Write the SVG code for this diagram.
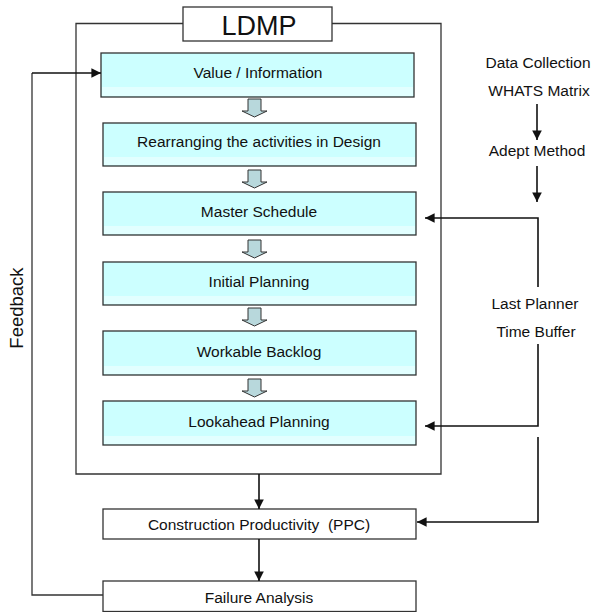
<svg xmlns="http://www.w3.org/2000/svg" width="594" height="612" viewBox="0 0 594 612">
<style>
.frame{fill:#fff;stroke:#333;stroke-width:1.3}
.box{fill:#ccffff;stroke:#333;stroke-width:1.3}
.band{fill:#e2ffff}
.wbox{fill:#fff;stroke:#333;stroke-width:1.3}
.t{font-family:"Liberation Sans",Arial,sans-serif;font-size:15.5px;fill:#111;text-anchor:middle}
.side{font-family:"Liberation Sans",Arial,sans-serif;font-size:15.5px;fill:#111;text-anchor:middle}
.blk{fill:#b8d8dc;stroke:#333;stroke-width:1}
.ln{fill:none;stroke:#111;stroke-width:1.6}
.thin{fill:none;stroke:#333;stroke-width:1.3}
</style>
<defs>
<marker id="ah" viewBox="0 0 10 10" refX="10" refY="5" markerWidth="6" markerHeight="6" orient="auto" markerUnits="strokeWidth">
<path d="M0,0 L10,5 L0,10 z" fill="#111"/>
</marker>
<path id="blockArrow" d="M-6.5,0 H6.5 V12 H12.5 L0,18 L-12.5,12 H-6.5 Z"/>
</defs>

<g id="ldmp-frame">
<path class="thin" d="M183,23.5 H76 V474 H441 V23.5 H332"/>
</g>
<g id="ldmp-title">
<rect class="wbox" x="183" y="7" width="149" height="34"/>
<text x="259" y="35" font-family="Liberation Sans, Arial, sans-serif" font-size="27" text-anchor="middle" fill="#111">LDMP</text>
</g>

<g id="value">
<rect class="box" x="101" y="53" width="313" height="44"/>
<rect class="band" x="102" y="87" width="311" height="9"/>
<text class="t" x="258" y="78">Value / Information</text>
</g>
<g id="rearranging">
<rect class="box" x="103" y="123" width="313" height="43"/>
<rect class="band" x="104" y="157" width="311" height="8"/>
<text class="t" x="259" y="147">Rearranging the activities in Design</text>
</g>
<g id="master">
<rect class="box" x="103" y="192" width="313" height="43"/>
<rect class="band" x="104" y="226" width="311" height="8"/>
<text class="t" x="259" y="217">Master Schedule</text>
</g>
<g id="initial">
<rect class="box" x="103" y="262" width="313" height="43"/>
<rect class="band" x="104" y="296" width="311" height="8"/>
<text class="t" x="259" y="287">Initial Planning</text>
</g>
<g id="workable">
<rect class="box" x="103" y="331" width="313" height="44"/>
<rect class="band" x="104" y="366" width="311" height="8"/>
<text class="t" x="259" y="357">Workable Backlog</text>
</g>
<g id="lookahead">
<rect class="box" x="103" y="401" width="313" height="44"/>
<rect class="band" x="104" y="436" width="311" height="8"/>
<text class="t" x="259" y="427">Lookahead Planning</text>
</g>

<g id="construction">
<rect class="wbox" x="103" y="509" width="313" height="30"/>
<text class="t" x="259" y="530" xml:space="preserve">Construction Productivity  (PPC)</text>
</g>
<g id="failure">
<rect class="wbox" x="103" y="581" width="313" height="30.5"/>
<text class="t" x="259" y="603">Failure Analysis</text>
</g>

<g id="side-labels">
<text class="side" x="538" y="68">Data Collection</text>
<text class="side" x="539" y="96">WHATS Matrix</text>
<text class="side" x="537" y="156">Adept Method</text>
<text class="side" x="535" y="309">Last Planner</text>
<text class="side" x="536" y="337">Time Buffer</text>
<text x="16" y="308" transform="rotate(-90 16 308)" font-family="Liberation Sans, Arial, sans-serif" font-size="18.5" text-anchor="middle" dominant-baseline="central" fill="#111">Feedback</text>
</g>

<g id="connectors">
<use href="#blockArrow" class="blk" x="254.5" y="99"/>
<use href="#blockArrow" class="blk" x="254.5" y="170"/>
<use href="#blockArrow" class="blk" x="254.5" y="240"/>
<use href="#blockArrow" class="blk" x="254.5" y="308"/>
<use href="#blockArrow" class="blk" x="254.5" y="379"/>

<line class="ln" x1="537" y1="104" x2="537" y2="140" marker-end="url(#ah)"/>
<line class="ln" x1="537" y1="166" x2="537" y2="202" marker-end="url(#ah)"/>
<path class="ln" d="M538,287 V218 H425" marker-end="url(#ah)"/>
<path class="ln" d="M538,344 V426 H425" marker-end="url(#ah)"/>
<path class="ln" d="M538,437 V522 H417" marker-end="url(#ah)"/>

<line class="ln" x1="259" y1="474" x2="259" y2="509" marker-end="url(#ah)"/>
<line class="ln" x1="259" y1="539" x2="259" y2="581" marker-end="url(#ah)"/>

<path class="thin" d="M103,595 H32 V73"/>
<path class="ln" d="M32,73 H101" marker-end="url(#ah)"/>
</g>
</svg>
